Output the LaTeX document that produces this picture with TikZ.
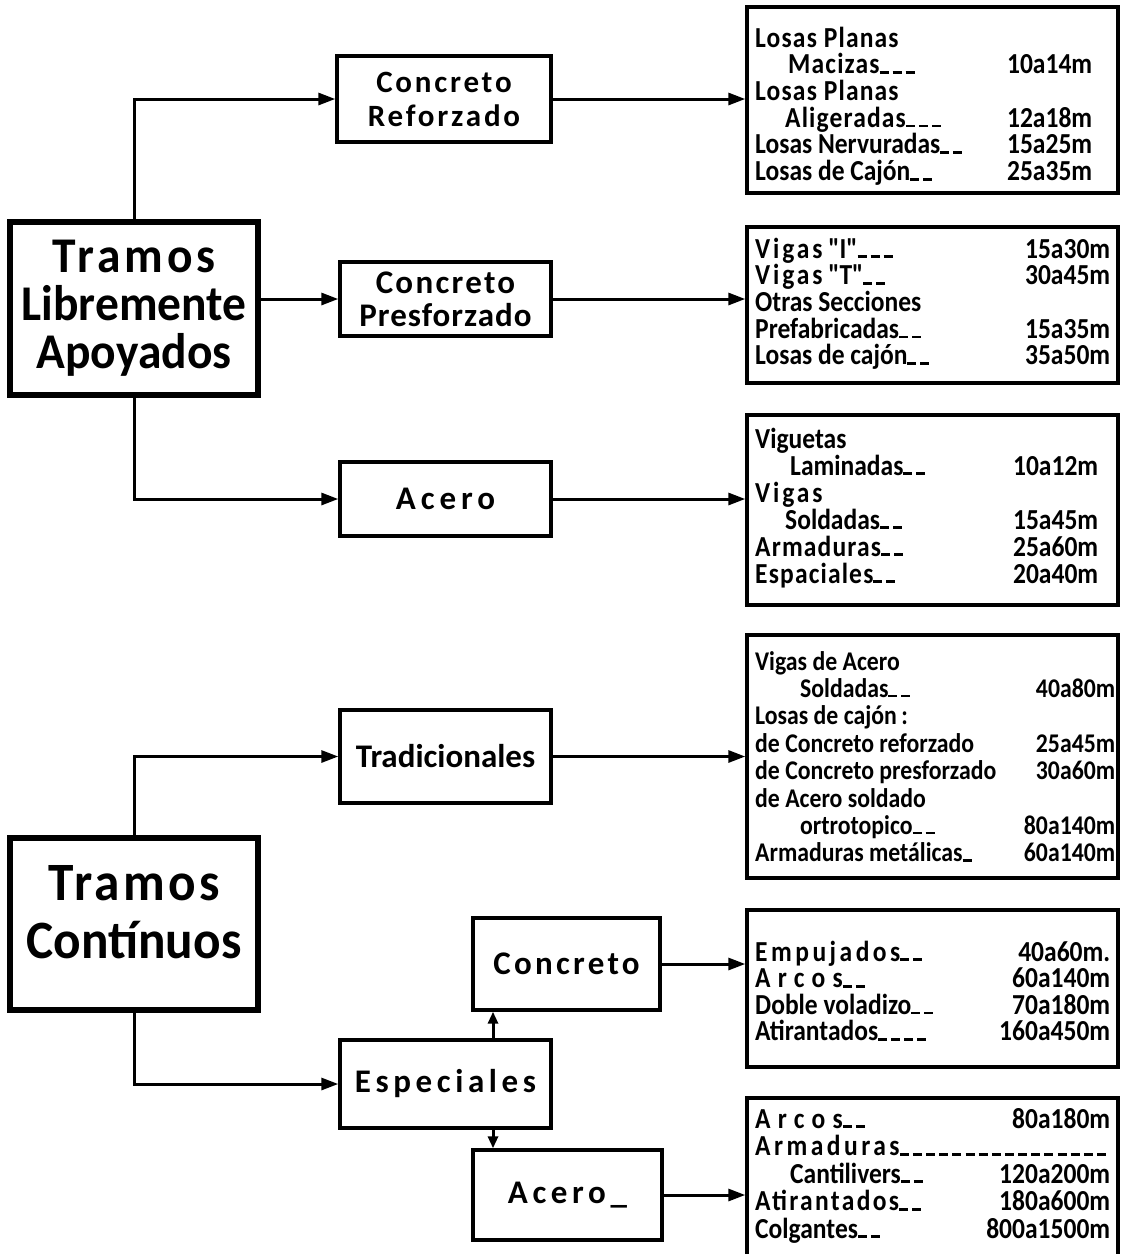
\documentclass[tikz,border=0pt]{standalone}
\usepackage{fontspec}
\setmainfont{Carlito}
\newfontfamily\cond{Carlito}[FakeStretch=0.88]
\newfontfamily\bigcond{Carlito}[FakeStretch=0.95]
\usetikzlibrary{arrows.meta}

% one line of a list: left text, right-aligned value
\newcommand\rowl[2]{\hbox to \hsize{#1\hfil #2}}
% short lettering dashes sitting on the baseline
\newcommand\us{\rule{9pt}{2.6pt}\hspace{4pt}}
\newcommand\ind[1]{\hspace*{#1pt}}
\newcommand\spaced[2]{{\addfontfeature{LetterSpace=#1}#2}}
% a stacked list of lines: width, line pitch, lines
\newcommand\listbox[3]{\vtop{\hsize=#1pt\lineskiplimit=-\maxdimen\baselineskip=#2pt\relax #3}}

\begin{document}
\begin{tikzpicture}[x=1pt,y=-1pt,
  conn/.style={line width=3pt,-{Triangle[length=17pt,width=12pt]}},
  link/.style={line width=3pt,-{Triangle[length=12pt,width=10pt]}},
  mid/.style={draw,line width=3.4pt,align=center,inner sep=0},
  big/.style={draw,line width=6.5pt,align=center,inner sep=0},
  list/.style={draw,line width=3.4pt,inner sep=0},
  txt/.style={anchor=base west,inner sep=0},
  bigfont/.style={font=\bigcond\bfseries\fontsize{50}{48}\selectfont},
  midfont/.style={font=\bfseries\fontsize{33}{34}\selectfont},
  listfont/.style={font=\cond\bfseries\fontsize{29}{26}\selectfont}]

\useasboundingbox (0,0) rectangle (1122,1254);
\clip (0,0) rectangle (1122,1254);

% main categories
\node[big,bigfont,minimum width=248pt,minimum height=173pt] (tl) at (134,308.5)
  {\spaced{8}{Tramos}\\Libremente\\Apoyados};
\node[big,minimum width=248pt,minimum height=172pt] (tc) at (134,924) {};
\node[align=center,inner sep=0,font=\bigcond\bfseries\fontsize{54}{58}\selectfont] (tct) at (134,912)
  {\spaced{6}{Tramos}\\Contínuos};

% second level
\node[mid,font=\bfseries\fontsize{31}{34}\selectfont,minimum width=214pt,minimum height=86pt] (cr) at (444,99)
  {\spaced{9}{Concreto}\\\spaced{9}{Reforzado}};
\node[mid,font=\bfseries\fontsize{33}{33}\selectfont,minimum width=211pt,minimum height=74pt] (cp) at (445.5,299)
  {\spaced{7}{Concreto}\\\spaced{3}{Presforzado}};
\node[mid,midfont,minimum width=211pt,minimum height=74pt] (ac) at (445.5,499)
  {\spaced{15}{Acero}};
\node[mid,midfont,minimum width=211pt,minimum height=93pt] (tr) at (445.5,756.5)
  {Tradicionales};
\node[mid,midfont,minimum width=211pt,minimum height=88pt] (es) at (445.5,1084)
  {\spaced{14}{Especiales}};
\node[mid,midfont,minimum width=187pt,minimum height=92pt] (co) at (566.5,964)
  {\spaced{10}{Concreto}};
\node[mid,midfont,minimum width=189pt,minimum height=90pt] (al) at (567.5,1195)
  {\spaced{14}{Acero\_}};

% span tables
\node[list,minimum width=371pt,minimum height=186pt] (r1) at (932.5,100) {};
\node[list,minimum width=371pt,minimum height=156pt] (r2) at (932.5,305) {};
\node[list,minimum width=371pt,minimum height=190pt] (r3) at (932.5,510) {};
\node[list,minimum width=371pt,minimum height=243pt] (r4) at (932.5,756.5) {};
\node[list,minimum width=371pt,minimum height=157pt] (r5) at (932.5,988.5) {};
\node[list,minimum width=371pt,minimum height=172pt] (r6) at (932.5,1184) {};

\node[txt,listfont] (r1t) at (755,47) {\listbox{337}{26.7}{%
  \rowl{\spaced{4}{Losas Planas}}{}
  \rowl{\ind{33}\spaced{4}{Macizas}\us\us\us}{10a14m}
  \rowl{\spaced{4}{Losas Planas}}{}
  \rowl{\ind{30}\spaced{4}{Aligeradas}\us\us\us}{12a18m}
  \rowl{Losas Nervuradas\us\us}{15a25m}
  \rowl{Losas de Cajón\us\us}{25a35m}}};

\node[txt,listfont] (r2t) at (755,258) {\listbox{355}{26.7}{%
  \rowl{\spaced{10}{Vigas} "I"\us\us\us}{15a30m}
  \rowl{\spaced{10}{Vigas} "T"\us\us}{30a45m}
  \rowl{Otras Secciones}{}
  \rowl{Prefabricadas\us\us}{15a35m}
  \rowl{Losas de cajón\us\us}{35a50m}}};

\node[txt,listfont] (r3t) at (755,448) {\listbox{343}{27}{%
  \rowl{Viguetas}{}
  \rowl{\ind{35}Laminadas\us\us}{10a12m}
  \rowl{\spaced{10}{Vigas}}{}
  \rowl{\ind{30}Soldadas\us\us}{15a45m}
  \rowl{\spaced{4}{Armaduras}\us\us}{25a60m}
  \rowl{\spaced{4}{Espaciales}\us\us}{20a40m}}};

\node[txt,font=\cond\bfseries\fontsize{27}{26}\selectfont] (r4t) at (755,670) {\listbox{360}{27.4}{%
  \rowl{Vigas de Acero}{}
  \rowl{\ind{45}Soldadas\us\us}{40a80m}
  \rowl{Losas de cajón\,:}{}
  \rowl{de Concreto reforzado}{25a45m}
  \rowl{de Concreto presforzado}{30a60m}
  \rowl{de Acero soldado}{}
  \rowl{\ind{45}ortrotopico\us\us}{80a140m}
  \rowl{Armaduras metálicas\us}{60a140m}}};

\node[txt,listfont] (r5t) at (755,961) {\listbox{355}{26.6}{%
  \rowl{\spaced{12}{Empujados}\us\us}{40a60m.}
  \rowl{\spaced{25}{Arcos}\us\us}{60a140m}
  \rowl{Doble voladizo\us\us}{70a180m}
  \rowl{Atirantados\us\us\us\us}{160a450m}}};

\node[txt,listfont] (r6t) at (755,1128) {\listbox{355}{27.5}{%
  \rowl{\spaced{25}{Arcos}\us\us}{80a180m}
  \rowl{\spaced{12}{Armaduras}\xleaders\hbox{\us}\hfill}{}
  \rowl{\ind{35}Cantilivers\us\us}{120a200m}
  \rowl{\spaced{8}{Atirantados}\us\us}{180a600m}
  \rowl{Colgantes\us\us}{800a1500m}}};

% connectors
\draw[conn] (tl.north) |- (cr.west);
\draw[conn] (tl.east |- cp.west) -- (cp.west);
\draw[conn] (tl.south) |- (ac.west);
\draw[conn] (tc.north) |- (tr.west);
\draw[conn] (tc.south) |- (es.west);

\coordinate (vx) at (493,1060);
\draw[link] (vx |- es.north) -- (vx |- co.south);
\draw[link] (vx |- es.south) -- (vx |- al.north);

\draw[conn] (cr.east) -- (cr.east -| r1.west);
\draw[conn] (cp.east) -- (cp.east -| r2.west);
\draw[conn] (ac.east) -- (ac.east -| r3.west);
\draw[conn] (tr.east) -- (tr.east -| r4.west);
\draw[conn] (co.east) -- (co.east -| r5.west);
\draw[conn] (al.east) -- (al.east -| r6.west);
\end{tikzpicture}
\end{document}
